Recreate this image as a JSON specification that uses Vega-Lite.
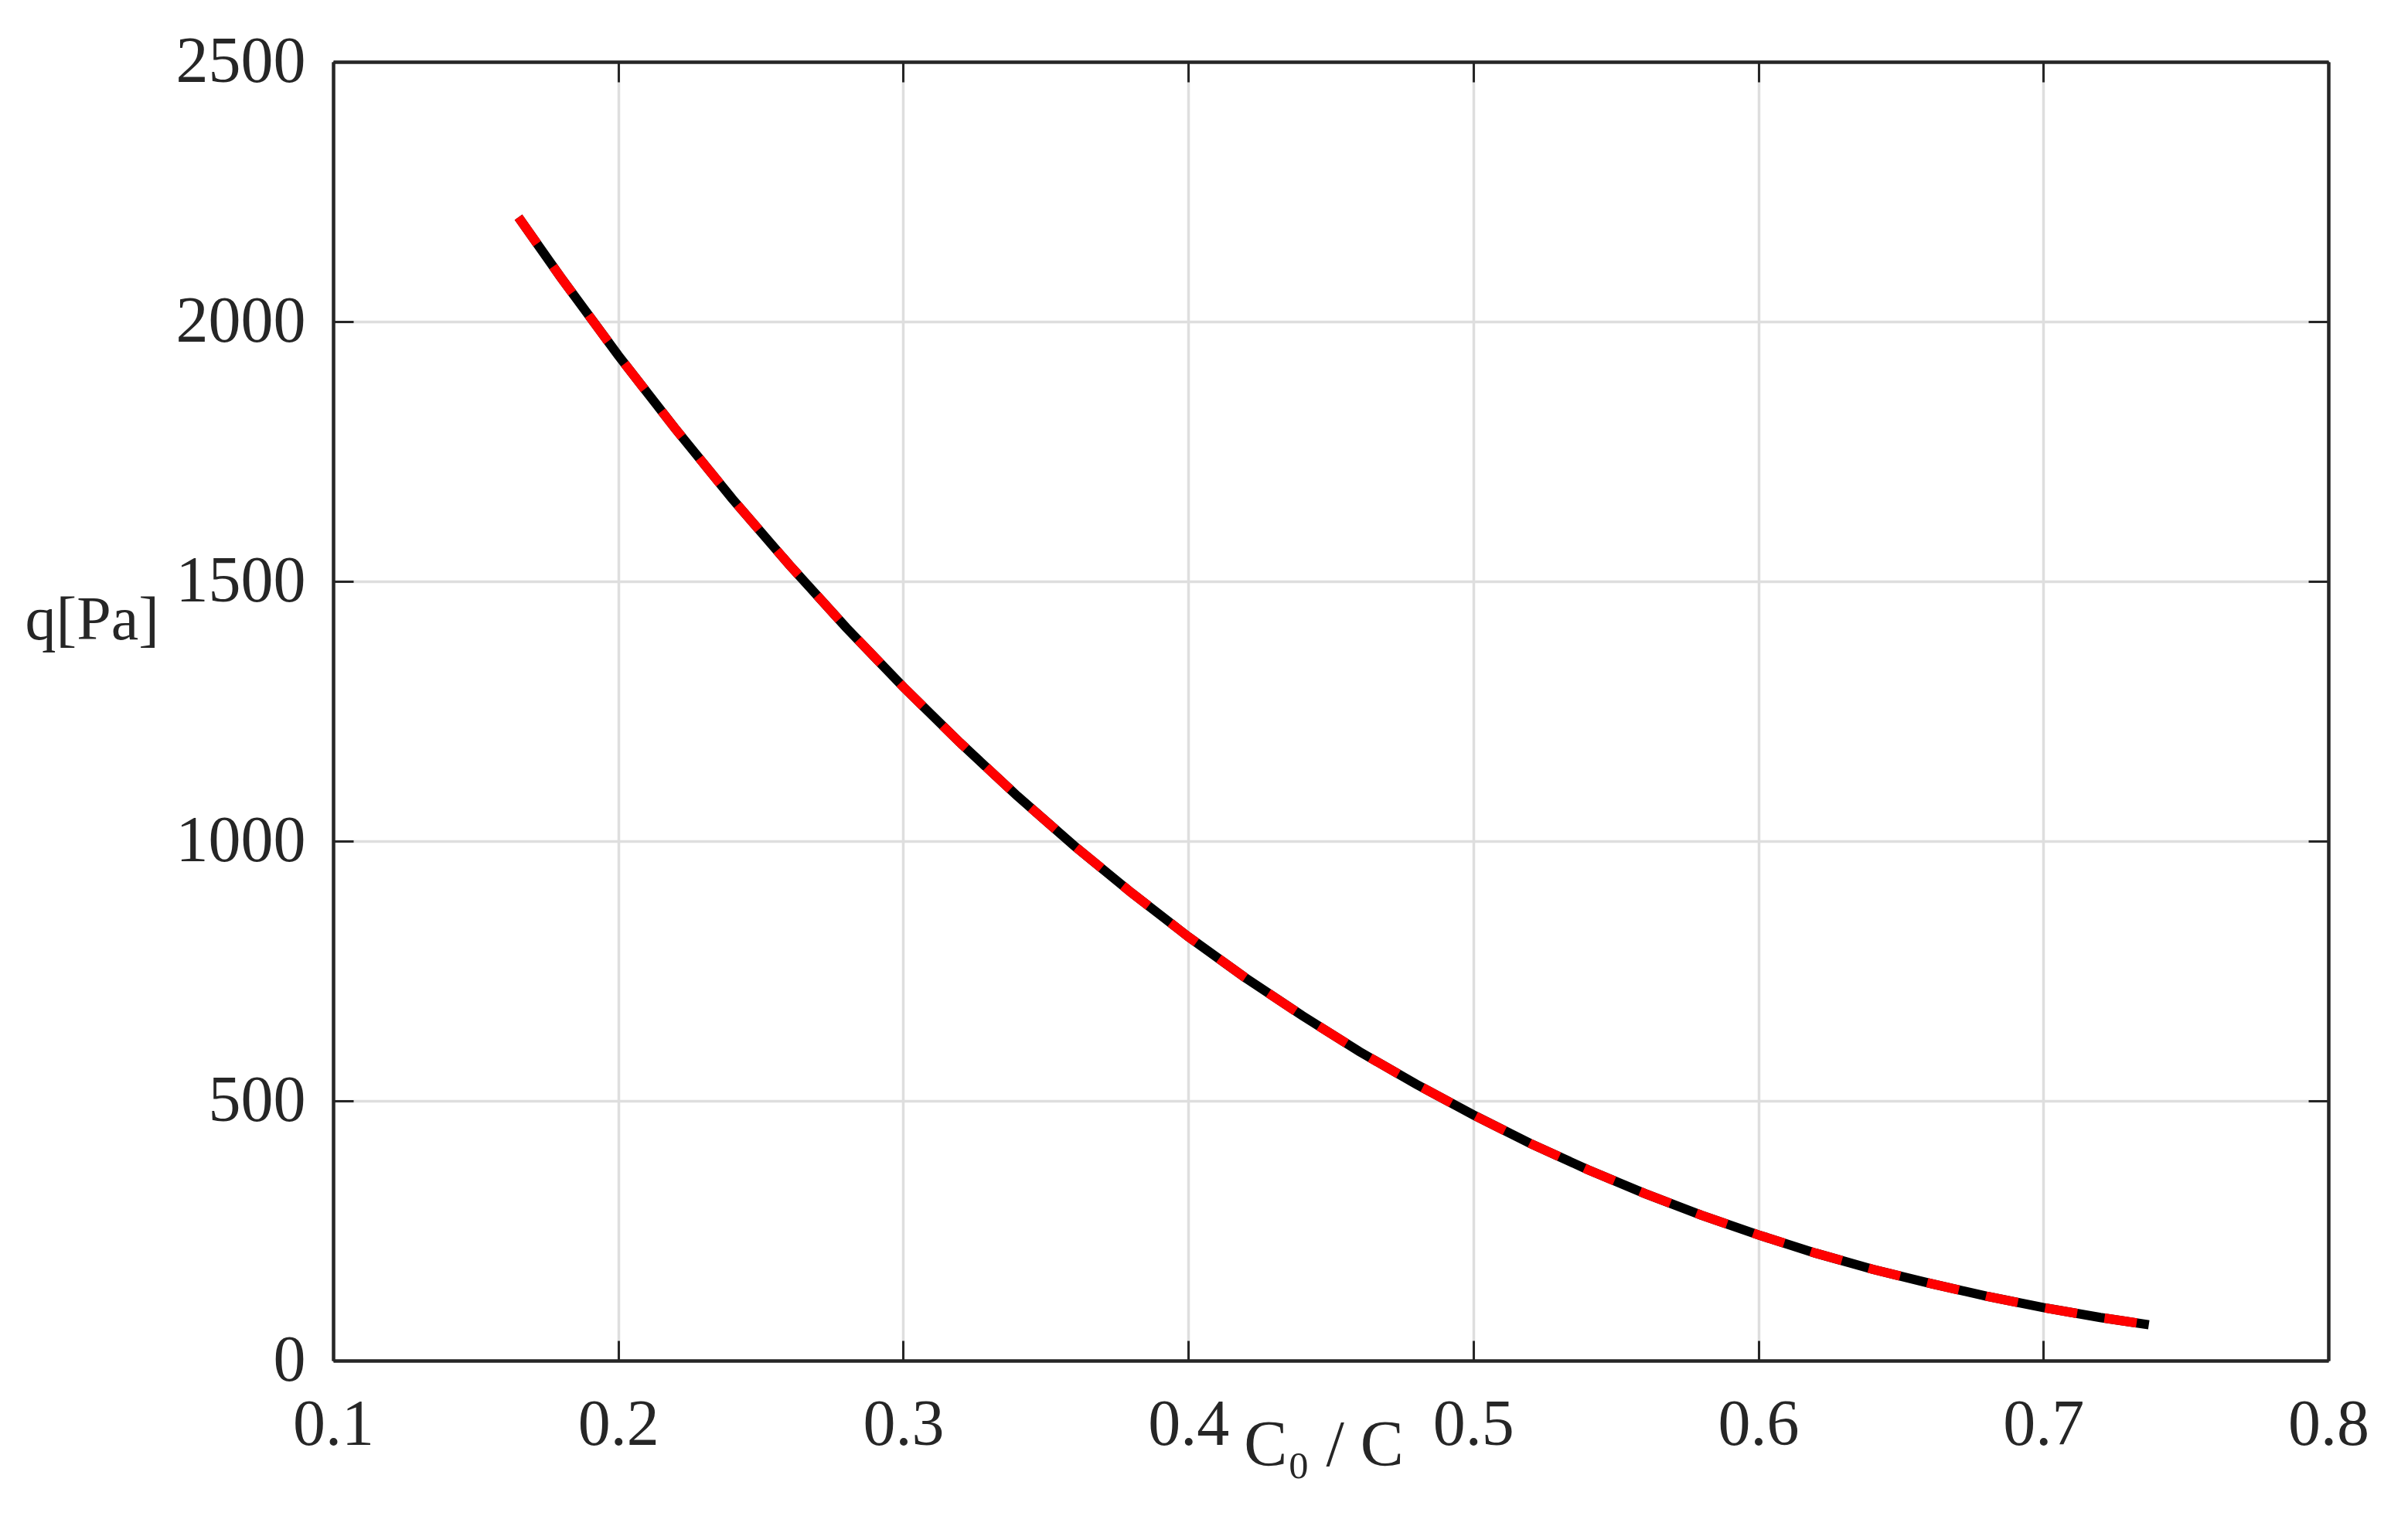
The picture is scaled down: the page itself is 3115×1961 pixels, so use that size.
{
  "$schema": "https://vega.github.io/schema/vega-lite/v6.json",
  "width": 2581,
  "height": 1680,
  "autosize": "none",
  "padding": {"left": 431, "top": 80, "right": 103, "bottom": 201},
  "background": "white",
  "config": {
    "view": {"stroke": null},
    "font": "Liberation Serif",
    "axis": {
      "labelFont": "Liberation Serif",
      "titleFont": "Liberation Serif",
      "labelColor": "#262626",
      "titleColor": "#262626",
      "tickColor": "#262626",
      "tickWidth": 3,
      "tickSize": -26,
      "domain": true,
      "domainColor": "#262626",
      "domainWidth": 4.5,
      "labelLimit": 0,
      "gridColor": "#dedede",
      "gridWidth": 3.5
    }
  },
  "data": {
    "values": [
      {"ratio": 0.165, "q": 2201, "series": "analytical"},
      {"ratio": 0.18, "q": 2084, "series": "analytical"},
      {"ratio": 0.2, "q": 1935, "series": "analytical"},
      {"ratio": 0.22, "q": 1794, "series": "analytical"},
      {"ratio": 0.24, "q": 1659, "series": "analytical"},
      {"ratio": 0.26, "q": 1532, "series": "analytical"},
      {"ratio": 0.28, "q": 1411, "series": "analytical"},
      {"ratio": 0.3, "q": 1297, "series": "analytical"},
      {"ratio": 0.32, "q": 1189, "series": "analytical"},
      {"ratio": 0.34, "q": 1087, "series": "analytical"},
      {"ratio": 0.36, "q": 991, "series": "analytical"},
      {"ratio": 0.38, "q": 901, "series": "analytical"},
      {"ratio": 0.4, "q": 816, "series": "analytical"},
      {"ratio": 0.42, "q": 737, "series": "analytical"},
      {"ratio": 0.44, "q": 664, "series": "analytical"},
      {"ratio": 0.46, "q": 595, "series": "analytical"},
      {"ratio": 0.48, "q": 532, "series": "analytical"},
      {"ratio": 0.5, "q": 473, "series": "analytical"},
      {"ratio": 0.52, "q": 418, "series": "analytical"},
      {"ratio": 0.54, "q": 368, "series": "analytical"},
      {"ratio": 0.56, "q": 322, "series": "analytical"},
      {"ratio": 0.58, "q": 280, "series": "analytical"},
      {"ratio": 0.6, "q": 242, "series": "analytical"},
      {"ratio": 0.62, "q": 207, "series": "analytical"},
      {"ratio": 0.64, "q": 176, "series": "analytical"},
      {"ratio": 0.66, "q": 149, "series": "analytical"},
      {"ratio": 0.68, "q": 124, "series": "analytical"},
      {"ratio": 0.7, "q": 102, "series": "analytical"},
      {"ratio": 0.72, "q": 83, "series": "analytical"},
      {"ratio": 0.737, "q": 69, "series": "analytical"},
      {"ratio": 0.165, "q": 2201, "series": "numerical"},
      {"ratio": 0.18, "q": 2084, "series": "numerical"},
      {"ratio": 0.2, "q": 1935, "series": "numerical"},
      {"ratio": 0.22, "q": 1794, "series": "numerical"},
      {"ratio": 0.24, "q": 1659, "series": "numerical"},
      {"ratio": 0.26, "q": 1532, "series": "numerical"},
      {"ratio": 0.28, "q": 1411, "series": "numerical"},
      {"ratio": 0.3, "q": 1297, "series": "numerical"},
      {"ratio": 0.32, "q": 1189, "series": "numerical"},
      {"ratio": 0.34, "q": 1087, "series": "numerical"},
      {"ratio": 0.36, "q": 991, "series": "numerical"},
      {"ratio": 0.38, "q": 901, "series": "numerical"},
      {"ratio": 0.4, "q": 816, "series": "numerical"},
      {"ratio": 0.42, "q": 737, "series": "numerical"},
      {"ratio": 0.44, "q": 664, "series": "numerical"},
      {"ratio": 0.46, "q": 595, "series": "numerical"},
      {"ratio": 0.48, "q": 532, "series": "numerical"},
      {"ratio": 0.5, "q": 473, "series": "numerical"},
      {"ratio": 0.52, "q": 418, "series": "numerical"},
      {"ratio": 0.54, "q": 368, "series": "numerical"},
      {"ratio": 0.56, "q": 322, "series": "numerical"},
      {"ratio": 0.58, "q": 280, "series": "numerical"},
      {"ratio": 0.6, "q": 242, "series": "numerical"},
      {"ratio": 0.62, "q": 207, "series": "numerical"},
      {"ratio": 0.64, "q": 176, "series": "numerical"},
      {"ratio": 0.66, "q": 149, "series": "numerical"},
      {"ratio": 0.68, "q": 124, "series": "numerical"},
      {"ratio": 0.7, "q": 102, "series": "numerical"},
      {"ratio": 0.72, "q": 83, "series": "numerical"},
      {"ratio": 0.737, "q": 69, "series": "numerical"}
    ]
  },
  "layer": [
    {
      "transform": [{"filter": "datum.series === 'analytical'"}],
      "mark": {"type": "line", "color": "black", "strokeWidth": 12, "clip": true},
      "encoding": {
        "x": {
          "field": "ratio",
          "type": "quantitative",
          "scale": {"domain": [0.1, 0.8], "nice": false, "zero": false},
          "axis": {
            "orient": "bottom",
            "values": [0.1, 0.2, 0.3, 0.4, 0.5, 0.6, 0.7, 0.8],
            "format": ".1f",
            "labelFontSize": 84,
            "labelPadding": 68,
            "labelFlush": false,
            "labelOverlap": false,
            "labelBound": false,
            "grid": true,
            "title": "C\u2080 / C",
            "titleFontSize": 84,
            "titleFontWeight": "normal",
            "titleX": 1281,
            "titleY": 110,
            "titleAlign": "center",
            "titleBaseline": "middle"
          }
        },
        "y": {
          "field": "q",
          "type": "quantitative",
          "scale": {"domain": [0, 2500], "nice": false},
          "axis": {
            "orient": "left",
            "values": [0, 500, 1000, 1500, 2000, 2500],
            "format": "d",
            "labelFontSize": 84,
            "labelPadding": 62,
            "labelFlush": false,
            "labelOverlap": false,
            "labelBound": false,
            "grid": true,
            "title": "q[Pa]",
            "titleFontSize": 80,
            "titleFontWeight": "normal",
            "titleAngle": 0,
            "titleX": -399,
            "titleY": 722,
            "titleAlign": "left",
            "titleBaseline": "middle"
          }
        }
      }
    },
    {
      "transform": [{"filter": "datum.series === 'numerical'"}],
      "mark": {"type": "line", "color": "#ff0000", "strokeWidth": 12, "strokeDash": [42, 36], "clip": true},
      "encoding": {
        "x": {
          "field": "ratio",
          "type": "quantitative",
          "axis": {
            "orient": "top",
            "values": [0.1, 0.2, 0.3, 0.4, 0.5, 0.6, 0.7, 0.8],
            "labels": false,
            "grid": false,
            "title": null
          }
        },
        "y": {
          "field": "q",
          "type": "quantitative",
          "axis": {
            "orient": "right",
            "values": [0, 500, 1000, 1500, 2000, 2500],
            "labels": false,
            "grid": false,
            "title": null
          }
        }
      }
    }
  ],
  "resolve": {"axis": {"x": "independent", "y": "independent"}}
}
